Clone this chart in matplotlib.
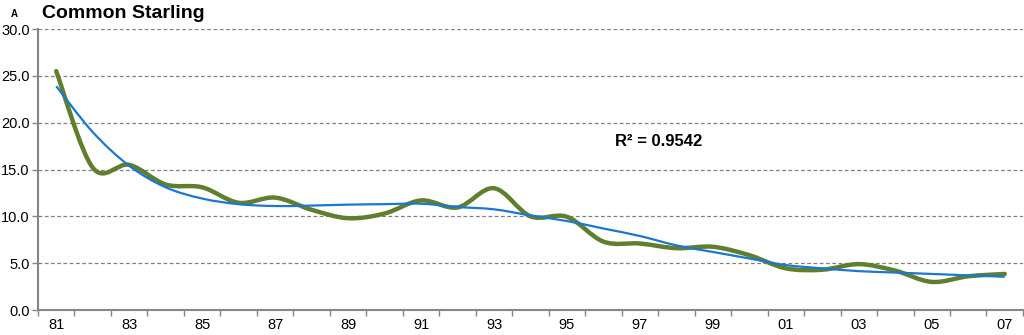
import matplotlib
matplotlib.use("Agg")
import matplotlib.pyplot as plt
import numpy as np
from matplotlib.patches import PathPatch
from matplotlib.path import Path

plt.rcParams["font.family"] = ["Liberation Sans", "DejaVu Sans"]

years = list(range(1981, 2008))
tick_labels = [f"{y % 100:02d}" for y in years]

# annual index
counts = [25.5, 15.2, 15.5, 13.4, 13.1, 11.45, 12.0, 10.7, 9.8, 10.3,
          11.7, 10.95, 13.0, 10.0, 9.95, 7.3, 7.1, 6.6, 6.75, 5.85,
          4.45, 4.3, 4.9, 4.2, 3.0, 3.6, 3.85]
# polynomial trend line as drawn
trend = [23.9, 19.0, 15.4, 13.1, 11.9, 11.3, 11.1, 11.15, 11.25, 11.3,
         11.35, 11.0, 10.75, 10.1, 9.5, 8.7, 7.9, 6.9, 6.2, 5.5,
         4.8, 4.45, 4.15, 4.0, 3.85, 3.7, 3.55]
r_squared = 0.9542


def smooth_path(xs, ys):
    # Bezier segments like Excel's "smoothed line"
    pts = np.column_stack([xs, ys]).astype(float)
    n = len(pts)
    verts = [pts[0]]
    codes = [Path.MOVETO]
    for i in range(n - 1):
        p0 = pts[max(i - 1, 0)]
        p1 = pts[i]
        p2 = pts[i + 1]
        p3 = pts[min(i + 2, n - 1)]
        c1 = p1 + (p2 - p0) / 6.0
        c2 = p2 - (p3 - p1) / 6.0
        verts += [c1, c2, p2]
        codes += [Path.CURVE4] * 3
    return Path(verts, codes)


fig = plt.figure(figsize=(10.24, 3.35), dpi=100)
ax = fig.add_axes([0.0371, 0.0746, 0.9619, 0.8388])

x = np.arange(len(years))
ax.add_patch(PathPatch(smooth_path(x, counts), fill=False, edgecolor="#5f7f2e",
                       lw=3.2, capstyle="round", joinstyle="round", zorder=3))
ax.add_patch(PathPatch(smooth_path(x, trend), fill=False, edgecolor="#1a78cf",
                       lw=1.6, capstyle="butt", zorder=4))

ax.set_xlim(-0.5, len(years) - 0.5)
ax.set_ylim(0, 30)
ax.set_yticks(np.arange(0, 30.1, 5))
ax.set_yticklabels([f"{v:.1f}" for v in np.arange(0, 30.1, 5)])
ax.yaxis.grid(True, linestyle=(0, (3, 2)), color="#808080", lw=0.9)
ax.set_axisbelow(True)

ax.set_xticks(np.arange(-0.5, len(years)))
ax.set_xticklabels([])
ax.set_xticks(x[::2], minor=True)
ax.set_xticklabels(tick_labels[::2], minor=True)
ax.tick_params(axis="x", which="major", length=4, color="#868686", width=1)
ax.tick_params(axis="x", which="minor", length=0, labelsize=10.5, pad=6)
ax.tick_params(axis="y", length=4, color="#868686", width=1, labelsize=10.5, pad=2)

for side in ("top", "right"):
    ax.spines[side].set_visible(False)
for side in ("left", "bottom"):
    ax.spines[side].set_color("#868686")
    ax.spines[side].set_linewidth(1.5)

ax.text(16.5, 18.0, f"R\u00b2 = {r_squared:.4f}", fontsize=12, fontweight="bold",
        ha="center", va="center")
fig.text(42 / 1024, 1 - 14 / 335, "Common Starling", fontsize=14, fontweight="bold",
         ha="left", va="center")
fig.text(14 / 1024, 1 - 14 / 335, "A", fontsize=7, fontweight="bold",
         ha="center", va="center")

fig.savefig("out.png", dpi=100)
